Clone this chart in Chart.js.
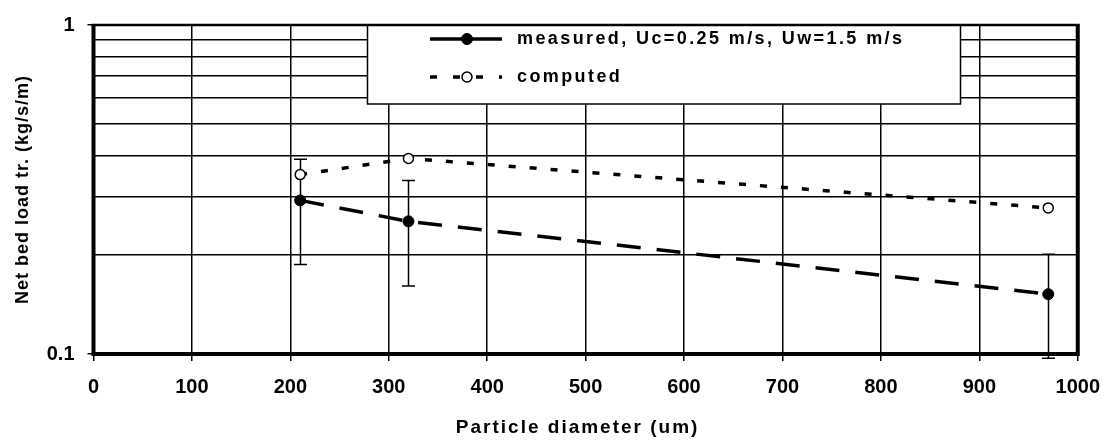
<!DOCTYPE html>
<html>
<head>
<meta charset="utf-8">
<script src="https://cdn.jsdelivr.net/npm/chart.js@4.4.1/dist/chart.umd.min.js"></script>
<style>
  html, body { margin: 0; padding: 0; background: #fff; }
  #wrap { width: 1114px; height: 442px; }
</style>
</head>
<body>
<div id="wrap"><canvas id="chart" width="1114" height="442"></canvas></div>
<script>
// particle diameters (um)
const diameters = [210, 320, 970];
// measured net bed load transport (kg/s/m) with error range
const measured = [0.293, 0.253, 0.152];
const measuredLow = [0.187, 0.161, 0.097];
const measuredHigh = [0.391, 0.337, 0.201];
// computed values
const computed = [0.351, 0.393, 0.278];

const yTickValues = [0.1, 0.2, 0.3, 0.4, 0.5, 0.6, 0.7, 0.8, 0.9, 1];
const yTickLabels = { '0.1': '0.1', '1': '1' };
const xTitle = 'Particle diameter (um)';
const yTitle = 'Net bed load tr. (kg/s/m)';

const FONT = "'Liberation Sans', Arial, sans-serif";

// error bars on the measured series
const errorBars = {
  id: 'errorBars',
  beforeDatasetsDraw(chart) {
    const { ctx, scales: { x, y } } = chart;
    ctx.save();
    ctx.strokeStyle = '#000';
    ctx.lineWidth = 1.5;
    diameters.forEach((d, i) => {
      const px = Math.round(x.getPixelForValue(d)) + 0.5;
      const top = y.getPixelForValue(measuredHigh[i]);
      const bot = y.getPixelForValue(measuredLow[i]);
      ctx.beginPath();
      ctx.moveTo(px, top); ctx.lineTo(px, bot);
      ctx.moveTo(px - 6.5, top); ctx.lineTo(px + 6.5, top);
      ctx.moveTo(px - 6.5, bot); ctx.lineTo(px + 6.5, bot);
      ctx.stroke();
    });
    ctx.restore();
  }
};

// plot frame, axis titles (letter-spaced) and boxed legend inside the plot
const frameLegend = {
  id: 'frameLegend',
  afterDraw(chart) {
    const { ctx, chartArea: a } = chart;
    ctx.save();
    // legend box
    const bx = 367.5, by = a.top, bw = 593, bh = 79;
    ctx.fillStyle = '#fff';
    ctx.fillRect(bx, by, bw, bh);
    ctx.strokeStyle = '#000';
    ctx.lineWidth = 1.5;
    ctx.strokeRect(bx, by, bw, bh);

    const rows = [39, 77];
    chart.data.datasets.forEach((ds, i) => {
      const ry = rows[i];
      ctx.strokeStyle = '#000';
      ctx.lineWidth = ds.borderWidth;
      ctx.setLineDash(i === 0 ? [] : [7, 16]);
      ctx.beginPath();
      ctx.moveTo(430, ry); ctx.lineTo(502, ry);
      ctx.stroke();
      ctx.setLineDash([]);
      ctx.beginPath();
      ctx.arc(467, ry, ds.pointRadius, 0, Math.PI * 2);
      ctx.fillStyle = ds.pointBackgroundColor;
      ctx.fill();
      ctx.lineWidth = ds.pointBorderWidth;
      ctx.stroke();
      ctx.fillStyle = '#000';
      ctx.font = 'bold 18px ' + FONT;
      ctx.letterSpacing = '2.4px';
      ctx.textBaseline = 'middle';
      ctx.textAlign = 'left';
      ctx.fillText(ds.label, 517, ry);
    });

    // axis titles
    ctx.fillStyle = '#000';
    ctx.textAlign = 'center';
    ctx.textBaseline = 'middle';
    ctx.font = 'bold 19px ' + FONT;
    ctx.letterSpacing = '2px';
    ctx.fillText(xTitle, (a.left + a.right) / 2 - 8, 428);
    ctx.save();
    ctx.translate(23, (a.top + a.bottom) / 2);
    ctx.rotate(-Math.PI / 2);
    ctx.font = 'bold 18px ' + FONT;
    ctx.letterSpacing = '1px';
    ctx.fillText(yTitle, 0, 0);
    ctx.restore();
    ctx.letterSpacing = '0px';

    // thick plot frame
    ctx.strokeStyle = '#000';
    ctx.lineWidth = 4;
    ctx.beginPath();
    ctx.moveTo(a.left, a.top); ctx.lineTo(a.left, a.bottom);
    ctx.lineTo(a.right, a.bottom); ctx.lineTo(a.right, a.top);
    ctx.stroke();
    ctx.lineWidth = 2.5;
    ctx.beginPath();
    ctx.moveTo(a.left - 2, a.top); ctx.lineTo(a.right + 2, a.top);
    ctx.stroke();
    ctx.restore();
  }
};

new Chart(document.getElementById('chart'), {
  type: 'line',
  data: {
    datasets: [
      {
        label: 'measured, Uc=0.25 m/s, Uw=1.5 m/s',
        data: diameters.map((d, i) => ({ x: d, y: measured[i] })),
        borderColor: '#000',
        borderWidth: 3.5,
        borderDash: [24, 16],
        pointRadius: 5.5,
        pointBackgroundColor: '#000',
        pointBorderColor: '#000',
        pointBorderWidth: 1,
        tension: 0
      },
      {
        label: 'computed',
        data: diameters.map((d, i) => ({ x: d, y: computed[i] })),
        borderColor: '#000',
        borderWidth: 3.5,
        borderDash: [7, 14],
        pointRadius: 5,
        pointBackgroundColor: '#fff',
        pointBorderColor: '#000',
        pointBorderWidth: 1.5,
        tension: 0
      }
    ]
  },
  options: {
    responsive: false,
    animation: false,
    layout: { padding: { left: 0, right: 28, top: 18, bottom: 0 } },
    plugins: {
      legend: { display: false },
      tooltip: { enabled: false }
    },
    scales: {
      x: {
        type: 'linear',
        min: 0,
        max: 1000,
        ticks: {
          stepSize: 100,
          color: '#000',
          padding: 14,
          maxRotation: 0,
          font: { family: FONT, size: 20, weight: 'bold' },
          callback: v => String(v)
        },
        grid: { color: '#000', lineWidth: 1.5, tickLength: 7 },
        border: { display: false },
        afterFit(s) { s.height = 88; }
      },
      y: {
        type: 'logarithmic',
        min: 0.1,
        max: 1,
        afterBuildTicks(s) { s.ticks = yTickValues.map(v => ({ value: v })); },
        ticks: {
          color: '#000',
          padding: 13,
          autoSkip: false,
          font: { family: FONT, size: 20, weight: 'bold' },
          callback: v => yTickLabels[String(v)] || ''
        },
        grid: {
          color: '#000',
          lineWidth: 1.5,
          tickLength: 6,
          tickColor: ctx => (ctx.tick && yTickLabels[String(ctx.tick.value)]) ? '#000' : 'rgba(0,0,0,0)'
        },
        border: { display: false },
        afterFit(s) { s.width = 93.5; }
      }
    }
  },
  plugins: [errorBars, frameLegend]
});
</script>
</body>
</html>
